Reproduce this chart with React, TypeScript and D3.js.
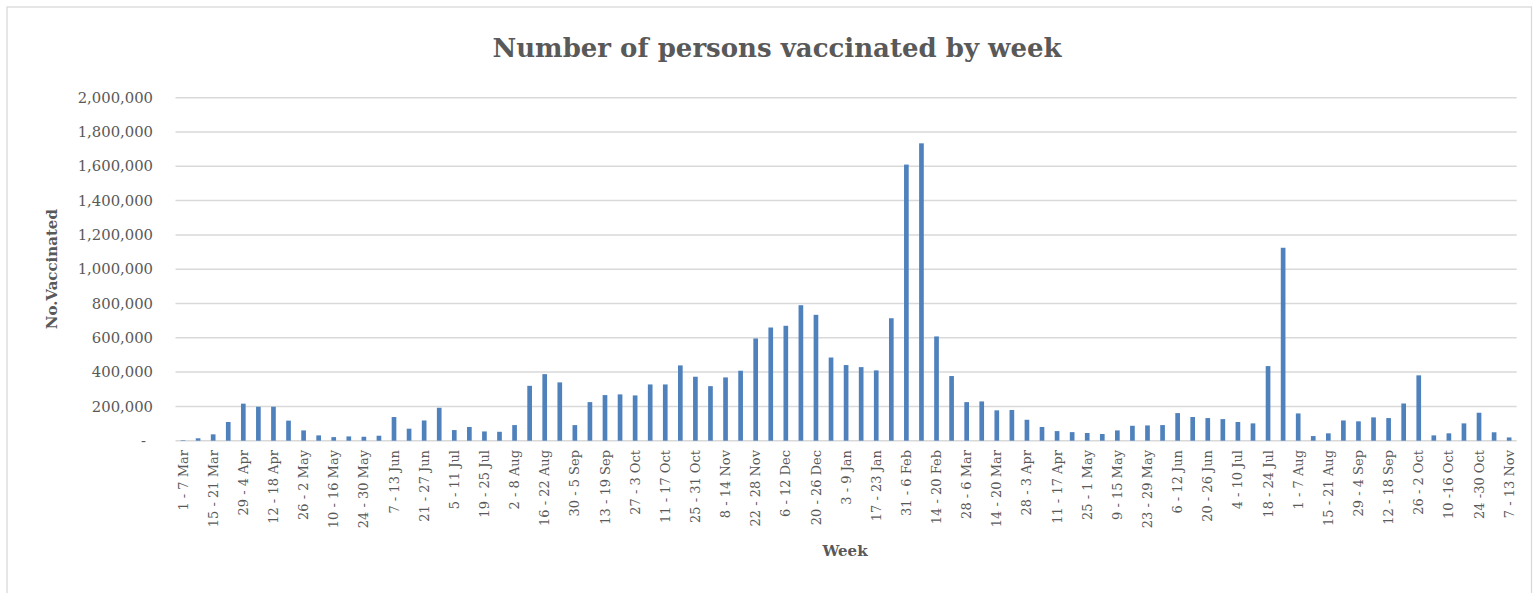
import React from "react";
import * as d3 from "d3";

const weeks: string[] = [
  "1 - 7 Mar", "8 - 14 Mar", "15 - 21 Mar", "22 - 28 Mar", "29 - 4 Apr", "5 - 11 Apr",
  "12 - 18 Apr", "19 - 25 Apr", "26 - 2 May", "3 - 9 May", "10 - 16 May", "17 - 23 May",
  "24 - 30 May", "31 - 6 Jun", "7 - 13 Jun", "14 - 20 Jun", "21 - 27 Jun", "28 - 4 Jul",
  "5 - 11 Jul", "12 - 18 Jul", "19 - 25 Jul", "26 - 1 Aug", "2 - 8 Aug", "9 - 15 Aug",
  "16 - 22 Aug", "23 - 29 Aug", "30 - 5 Sep", "6 - 12 Sep", "13 - 19 Sep", "20 - 26 Sep",
  "27 - 3 Oct", "4 - 10 Oct", "11 - 17 Oct", "18 - 24 Oct", "25 - 31 Oct", "1 - 7 Nov",
  "8 - 14 Nov", "15 - 21 Nov", "22 - 28 Nov", "29 - 5 Dec", "6 - 12 Dec", "13 - 19 Dec",
  "20 - 26 Dec", "27 - 2 Jan", "3 - 9 Jan", "10 - 16 Jan", "17 - 23 Jan", "24 - 30 Jan",
  "31 - 6 Feb", "7 - 13 Feb", "14 - 20 Feb", "21 - 27 Feb", "28 - 6 Mar", "7 - 13 Mar",
  "14 - 20 Mar", "21 - 27 Mar", "28 - 3 Apr", "4 - 10 Apr", "11 - 17 Apr", "18 - 24 Apr",
  "25 - 1 May", "2 - 8 May", "9 - 15 May", "16 - 22 May", "23 - 29 May", "30 - 5 Jun",
  "6 - 12 Jun", "13 - 19 Jun", "20 - 26 Jun", "27 - 3 Jul", "4 - 10 Jul", "11 - 17 Jul",
  "18 - 24 Jul", "25 - 31 Jul", "1 - 7 Aug", "8 - 14 Aug", "15 - 21 Aug", "22 - 28 Aug",
  "29 - 4 Sep", "5 - 11 Sep", "12 - 18 Sep", "19 - 25 Sep", "26 - 2 Oct", "3 - 9 Oct",
  "10 -16 Oct", "17 - 23 Oct", "24 -30 Oct", "31 - 6 Nov", "7 - 13 Nov",
];

const vaccinated: number[] = [
  3000, 14000, 37000, 109000, 216000, 198000, 198000, 117000, 60000, 31000, 21000, 25000,
  23000, 29000, 138000, 70000, 118000, 192000, 62000, 80000, 54000, 52000, 91000, 320000,
  388000, 340000, 91000, 225000, 266000, 270000, 264000, 328000, 328000, 439000, 373000, 318000,
  369000, 408000, 596000, 660000, 670000, 790000, 734000, 485000, 441000, 429000, 410000, 714000,
  1610000, 1734000, 608000, 377000, 225000, 229000, 177000, 179000, 122000, 80000, 56000, 50000,
  45000, 39000, 60000, 87000, 89000, 91000, 161000, 138000, 132000, 126000, 109000, 101000,
  435000, 1125000, 159000, 27000, 43000, 118000, 113000, 136000, 132000, 217000, 381000, 31000,
  43000, 101000, 163000, 49000, 19000,
];

const yTicks: number[] = [0, 200000, 400000, 600000, 800000, 1000000, 1200000, 1400000, 1600000, 1800000, 2000000];

const W = 1539;
const H = 593;
const FONT = "'DejaVu Serif', serif";
const TEXT = "#595959";

export default function App() {
  const left = 175.5;
  const right = 1516.7;
  const top = 97.7;
  const bottom = 440.7;

  const x = d3.scaleBand<string>().domain(weeks).range([left, right]).paddingInner(0.69).paddingOuter(0.345);
  const y = d3.scaleLinear().domain([0, 2000000]).range([bottom, top]);
  const fmt = d3.format(",");

  return (
    <svg width={W} height={H} style={{ position: "absolute", left: 0, top: 0, background: "#fff" }}>
      <rect x={0} y={0} width={W} height={H} fill="#fff" />
      <rect x={7} y={7} width={1524.5} height={600} fill="#fff" stroke="#d9d9d9" strokeWidth={1.3} />
      <text x={777} y={57} textAnchor="middle" fontFamily={FONT} fontWeight="bold" fontSize={26} fill={TEXT}>
        Number of persons vaccinated by week
      </text>
      {yTicks.map((t) => (
        <g key={t}>
          <line x1={left} x2={right} y1={y(t)} y2={y(t)} stroke="#d9d9d9" strokeWidth={1.5} />
          <text
            x={t === 0 ? 146 : 153}
            y={y(t)}
            dy="0.35em"
            textAnchor="end"
            fontFamily={FONT}
            fontSize={14.8}
            fill={TEXT}
          >
            {t === 0 ? "-" : fmt(t)}
          </text>
        </g>
      ))}
      {weeks.map((w, i) => (
        <rect
          key={w + i}
          x={x(w)}
          y={y(vaccinated[i])}
          width={x.bandwidth()}
          height={bottom - y(vaccinated[i])}
          fill="#4F81BD"
        />
      ))}
      {weeks.map((w, i) =>
        i % 2 === 0 ? (
          <text
            key={"l" + i}
            transform={`translate(${(x(w) as number) + x.bandwidth() / 2},450) rotate(-90)`}
            textAnchor="end"
            dy="0.35em"
            fontFamily={FONT}
            fontSize={13}
            fill={TEXT}
          >
            {w}
          </text>
        ) : null
      )}
      <text x={845} y={556} textAnchor="middle" fontFamily={FONT} fontWeight="bold" fontSize={15} fill={TEXT}>
        Week
      </text>
      <text
        transform={`translate(52,${(top + bottom) / 2}) rotate(-90)`}
        textAnchor="middle"
        dy="0.35em"
        fontFamily={FONT}
        fontWeight="bold"
        fontSize={15}
        fill={TEXT}
      >
        No.Vaccinated
      </text>
    </svg>
  );
}
